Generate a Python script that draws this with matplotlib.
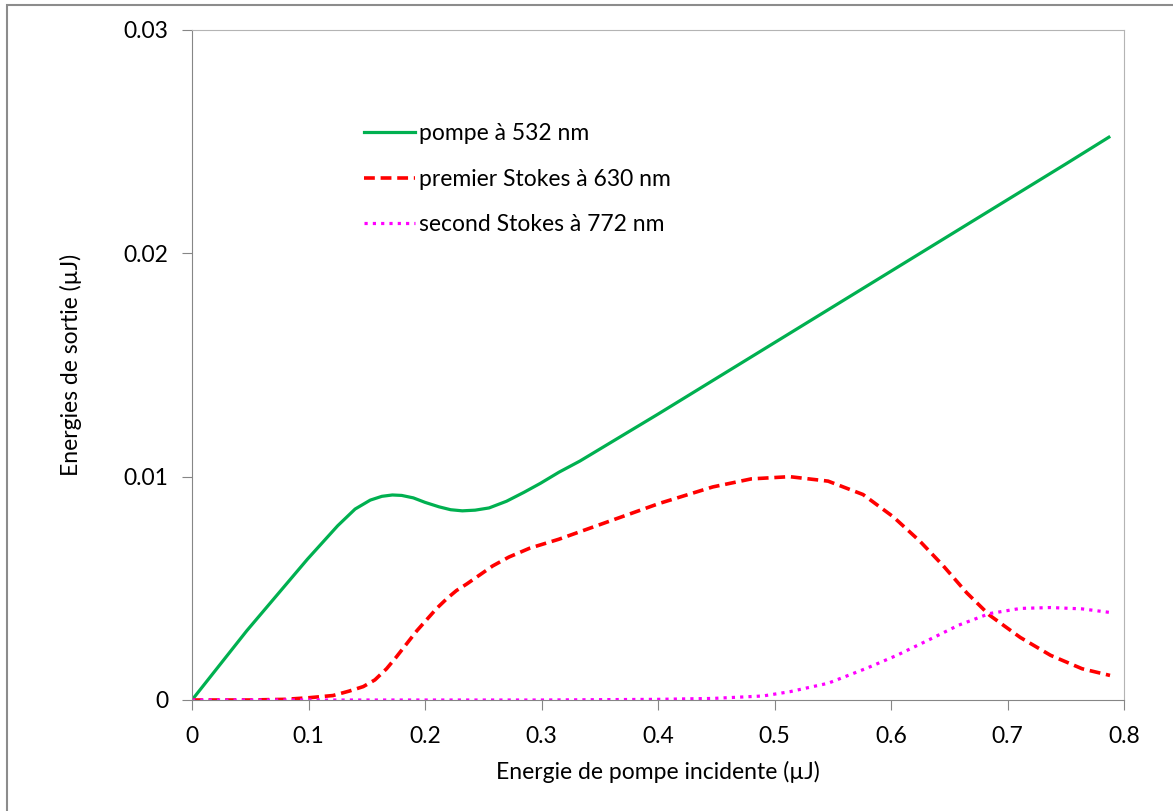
import matplotlib.pyplot as plt
from matplotlib.patches import Rectangle
from matplotlib.ticker import FuncFormatter

# donnees
x_pompe = [0, 0.047, 0.099, 0.125, 0.14, 0.153, 0.163, 0.172, 0.18, 0.19, 0.2, 0.212, 0.222,
           0.232, 0.243, 0.255, 0.27, 0.285, 0.299, 0.315, 0.333, 0.4, 0.45, 0.5, 0.55,
           0.6, 0.65, 0.7, 0.75, 0.787]
y_pompe = [0, 0.0031, 0.0063, 0.0078, 0.00855, 0.00895, 0.00912, 0.00918, 0.00916, 0.00905, 0.00885, 0.00865, 0.00852,
           0.00847, 0.0085, 0.0086, 0.0089, 0.0093, 0.0097, 0.0102, 0.0107, 0.0128, 0.0144, 0.0160, 0.0176,
           0.0192, 0.0208, 0.0224, 0.0240, 0.0252]

x_stokes1 = [0, 0.05, 0.08, 0.1, 0.121, 0.135, 0.147, 0.157, 0.167, 0.175, 0.184, 0.193, 0.2015,
             0.21, 0.219, 0.227, 0.236, 0.247, 0.258, 0.272, 0.29, 0.315, 0.358, 0.401, 0.447,
             0.48, 0.513, 0.546, 0.576, 0.602, 0.625, 0.645, 0.665, 0.6845, 0.711, 0.737, 0.764, 0.788]
y_stokes1 = [0, 0.0, 0.00003, 0.0001, 0.0002, 0.0004, 0.0006, 0.0009, 0.0014, 0.0019, 0.0025, 0.0031, 0.0036,
             0.0041, 0.00455, 0.0049, 0.0052, 0.0056, 0.0060, 0.0064, 0.0068, 0.0072, 0.0080, 0.0088, 0.00954,
             0.0099, 0.0100, 0.0098, 0.0092, 0.0082, 0.0071, 0.0060, 0.0048, 0.0038, 0.0028, 0.0020, 0.0014, 0.0011]

x_stokes2 = [0, 0.3, 0.4, 0.447, 0.49, 0.513, 0.546, 0.579, 0.605, 0.632, 0.658,
             0.6845, 0.711, 0.737, 0.764, 0.788]
y_stokes2 = [0, 0.0, 0.00003, 0.00007, 0.00018, 0.00037, 0.00075, 0.00142, 0.0020, 0.00268, 0.00335,
             0.00387, 0.0041, 0.00414, 0.00408, 0.00392]

plt.rcParams['font.family'] = ['Lato', 'DejaVu Sans']
fs = 16.5

fig = plt.figure(figsize=(11.73, 8.11), dpi=100)
ax = fig.add_axes([192/1173, 111/811, 932/1173, 670/811])

# cadre exterieur du graphique
fig.patches.append(Rectangle((7/1173, -0.1), 1.2, 1.1 - 5/811,
                             transform=fig.transFigure, fill=False,
                             edgecolor='#8c8c8c', linewidth=1.5))

ax.plot(x_pompe, y_pompe, color='#00B050', linewidth=2.3, label="pompe à 532 nm")
ax.plot(x_stokes1, y_stokes1, color='#FF0000', linewidth=2.6, linestyle=(0, (3, 1.6)),
        label="premier Stokes à 630 nm")
ax.plot(x_stokes2, y_stokes2, color='#FF00FF', linewidth=2.3, linestyle=(0, (1, 1.6)),
        label="second Stokes à 772 nm")

ax.set_xlim(0, 0.8)
ax.set_ylim(0, 0.03)
ax.set_xticks([0, 0.1, 0.2, 0.3, 0.4, 0.5, 0.6, 0.7, 0.8])
ax.set_yticks([0, 0.01, 0.02, 0.03])
fmt = FuncFormatter(lambda v, p: '{:g}'.format(round(v, 3)))
ax.xaxis.set_major_formatter(fmt)
ax.yaxis.set_major_formatter(fmt)
ax.tick_params(labelsize=fs, length=7, color='#868686')
ax.tick_params(axis='x', pad=12)
ax.tick_params(axis='y', pad=10)

for s in ['left', 'bottom']:
    ax.spines[s].set_color('#868686')
for s in ['top', 'right']:
    ax.spines[s].set_color('#b4b4b4')

ax.set_xlabel("Energie de pompe incidente (µJ)", fontsize=fs, labelpad=10)
ax.set_ylabel("Energies de sortie (µJ)", fontsize=fs, labelpad=30)

ax.legend(loc='upper left', bbox_to_anchor=(353/1173, 1 - 112/811), bbox_transform=fig.transFigure,
          frameon=False, fontsize=fs, handlelength=2.2, handletextpad=0.2, labelspacing=1.05,
          borderpad=0)

fig.savefig('out.png', dpi=100)
